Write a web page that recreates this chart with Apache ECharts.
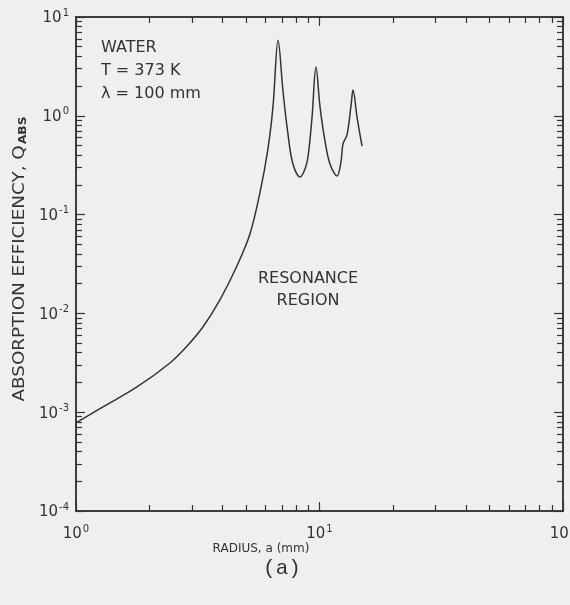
<!DOCTYPE html>
<html>
<head>
<meta charset="utf-8">
<script src="https://cdn.jsdelivr.net/npm/echarts@6/dist/echarts.min.js"></script>
<style>
  html, body { margin: 0; padding: 0; background: #efefef; }
  #chart { width: 570px; height: 605px; }
</style>
</head>
<body>
<div id="chart"></div>
<script>
// Absorption efficiency of a water sphere vs. radius (T = 373 K, wavelength 100 mm)
const radius = [1, 1.29, 1.78, 2.43, 2.86, 3.32, 3.90, 4.58, 5.18, 5.70, 6.14, 6.44, 6.76,
                7.08, 7.42, 7.78, 8.32, 8.72, 8.97, 9.32, 9.67, 10.05, 10.53, 11.04, 11.80,
                12.25, 12.49, 12.97, 13.47, 13.73, 14.26, 14.95];
const qAbs = [7.8e-4, 1.13e-3, 1.80e-3, 3.15e-3, 4.68e-3, 7.28e-3, 0.0137, 0.0302, 0.0637,
              0.169, 0.461, 1.23, 5.8, 1.78, 0.655, 0.325, 0.240, 0.290, 0.383, 0.972, 3.12,
              1.23, 0.556, 0.325, 0.246, 0.340, 0.519, 0.640, 1.26, 1.82, 0.972, 0.494];

// Decade ticks and their exponent labels
const xTickValues = [1, 10, 100];
const xTickExponents = ['0', '1', '2'];
const yTickValues = [1e-4, 1e-3, 1e-2, 1e-1, 1, 10];
const yTickExponents = ['-4', '-3', '-2', '-1', '0', '1'];

// Minor ticks at 2..9 within each decade
const mantissas = [2, 3, 4, 5, 6, 7, 8, 9];
const xMinorTicks = [1, 10].flatMap(d => mantissas.map(m => m * d));
const yMinorTicks = [1e-4, 1e-3, 1e-2, 1e-1, 1].flatMap(d => mantissas.map(m => +(m * d).toPrecision(3)));

const ink = '#333333';
const font = 'DejaVu Sans';

function expLabel(values, exps) {
  return function (v) {
    for (let i = 0; i < values.length; i++) {
      if (Math.abs(Math.log10(values[i]) - Math.log10(v)) < 1e-6) {
        return '{b|10}{e|' + exps[i] + '}';
      }
    }
    return '';
  };
}

const labelRich = {
  b: { fontFamily: font, fontSize: 15, color: ink, verticalAlign: 'bottom' },
  e: { fontFamily: font, fontSize: 10, color: ink, verticalAlign: 'bottom', padding: [0, 0, 8, 1] }
};

function makeAxis(position, min, max, ticks, tickLen, labels) {
  const axis = {
    type: 'log',
    logBase: 10,
    min: min,
    max: max,
    position: position,
    axisLine: { show: true, onZero: false, lineStyle: { color: ink, width: 1.5 } },
    axisTick: { show: true, inside: true, length: tickLen, customValues: ticks,
                lineStyle: { color: ink, width: 1.2 } },
    splitLine: { show: false },
    minorTick: { show: false },
    axisLabel: { show: false }
  };
  if (labels) {
    axis.axisLabel = {
      show: true,
      customValues: ticks,
      formatter: expLabel(ticks, labels),
      rich: labelRich,
      margin: position === 'bottom' ? 13 : 7
    };
  }
  return axis;
}

const chart = echarts.init(document.getElementById('chart'), null, { renderer: 'canvas' });

chart.setOption({
  backgroundColor: '#efefef',
  animation: false,
  grid: { left: 76, right: 7, top: 17, bottom: 94, containLabel: false, outerBoundsMode: 'none' },
  xAxis: [
    makeAxis('bottom', 1, 100, xTickValues, 9, xTickExponents),
    makeAxis('bottom', 1, 100, xMinorTicks, 6, null),
    makeAxis('top', 1, 100, xTickValues, 9, null),
    makeAxis('top', 1, 100, xMinorTicks, 6, null)
  ],
  yAxis: [
    makeAxis('left', 1e-4, 10, yTickValues, 9, yTickExponents),
    makeAxis('left', 1e-4, 10, yMinorTicks, 6, null),
    makeAxis('right', 1e-4, 10, yTickValues, 9, null),
    makeAxis('right', 1e-4, 10, yMinorTicks, 6, null)
  ],
  series: [{
    type: 'line',
    xAxisIndex: 0,
    yAxisIndex: 0,
    data: radius.map((r, i) => [r, qAbs[i]]),
    smooth: 0.35,
    showSymbol: false,
    lineStyle: { color: ink, width: 1.5 }
  }],
  graphic: [
    {
      type: 'text', x: 20, y: 259, rotation: Math.PI / 2, scaleX: 1.22,
      style: {
        text: '{n|ABSORPTION EFFICIENCY, Q}{s|ABS}',
        align: 'center', verticalAlign: 'middle',
        rich: {
          n: { fontFamily: font, fontSize: 15, fill: ink, verticalAlign: 'middle' },
          s: { fontFamily: font, fontSize: 10, fontWeight: 'bold', fill: ink, verticalAlign: 'top', padding: [7, 0, 0, 1] }
        }
      }
    },
    {
      type: 'text', x: 261, y: 549,
      style: { text: 'RADIUS, a (mm)', fontFamily: font, fontSize: 12, fill: ink,
               align: 'center', verticalAlign: 'middle' }
    },
    {
      type: 'text', x: 282, y: 568,
      style: { text: '(a)', fontFamily: 'Liberation Mono', fontSize: 21, fill: ink,
               align: 'center', verticalAlign: 'middle' }
    },
    {
      type: 'text', x: 101, y: 48,
      style: { text: 'WATER', fontFamily: font, fontSize: 16, fill: ink, verticalAlign: 'middle' }
    },
    {
      type: 'text', x: 101, y: 71,
      style: { text: 'T = 373 K', fontFamily: font, fontSize: 16, fill: ink, verticalAlign: 'middle' }
    },
    {
      type: 'text', x: 101, y: 94,
      style: { text: 'λ = 100 mm', fontFamily: font, fontSize: 16, fill: ink, verticalAlign: 'middle' }
    },
    {
      type: 'text', x: 308, y: 279,
      style: { text: 'RESONANCE', fontFamily: font, fontSize: 16, fill: ink,
               align: 'center', verticalAlign: 'middle' }
    },
    {
      type: 'text', x: 308, y: 301,
      style: { text: 'REGION', fontFamily: font, fontSize: 16, fill: ink,
               align: 'center', verticalAlign: 'middle' }
    }
  ]
});
</script>
</body>
</html>
